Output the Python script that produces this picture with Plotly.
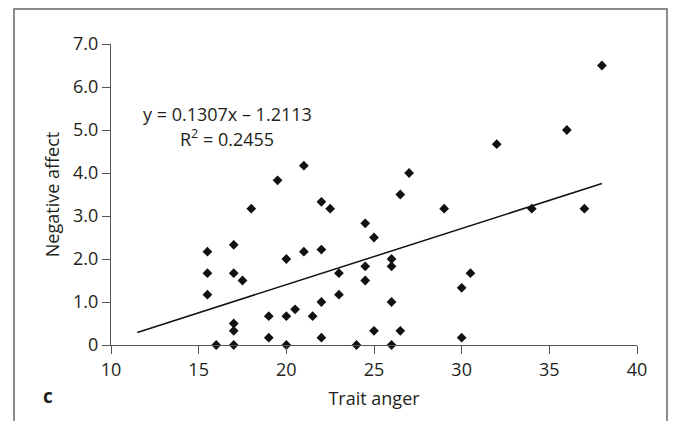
import plotly.graph_objects as go

trait_anger = [15.5, 15.5, 15.5, 16, 17, 17, 17.5, 17, 17, 17,
               18, 19.5, 20, 19, 20, 20.5, 19, 20, 21, 22,
               22.5, 27, 26.5, 29, 24.5, 25, 21, 22, 23, 24.5,
               24.5, 26, 26, 23, 22, 21.5, 26, 22, 25, 26.5,
               24, 26, 30, 30.5, 30, 38, 36, 32, 34, 37]
negative_affect = [2.17, 1.67, 1.17, 0, 2.33, 1.67, 1.5, 0.5, 0.33, 0,
                   3.17, 3.83, 2.0, 0.67, 0.67, 0.83, 0.17, 0, 4.17, 3.33,
                   3.17, 4.0, 3.5, 3.17, 2.83, 2.5, 2.17, 2.22, 1.67, 1.83,
                   1.5, 2.0, 1.83, 1.17, 1.0, 0.67, 1.0, 0.17, 0.33, 0.33,
                   0, 0, 1.33, 1.67, 0.17, 6.5, 5.0, 4.67, 3.17, 3.17]

slope = 0.1307
intercept = -1.2113
line_x = [11.5, 38]
line_y = [slope * v + intercept for v in line_x]

x_ticks = [10, 15, 20, 25, 30, 35, 40]
y_ticks = [0, 1, 2, 3, 4, 5, 6, 7]
y_ticktext = ["0", "1.0", "2.0", "3.0", "4.0", "5.0", "6.0", "7.0"]

FONT = "Open Sans"
TXT = "#231f20"
AX = "#555555"
FS = 18

# page is offset by the 8px body margin; figure is sized so the page fits exactly
PW, PH = 526, 301   # plot area size in px
L, T = 103, 36

fig = go.Figure()
fig.add_trace(go.Scatter(x=line_x, y=line_y, mode="lines",
                         line=dict(color="#111111", width=1.5),
                         hoverinfo="skip", showlegend=False))
fig.add_trace(go.Scatter(x=trait_anger, y=negative_affect, mode="markers",
                         marker=dict(symbol="diamond", size=7.5, color="#111111"),
                         cliponaxis=False, showlegend=False))

fig.update_layout(
    width=660, height=413,
    margin=dict(l=L, r=660 - L - PW, t=T, b=413 - T - PH),
    paper_bgcolor="white", plot_bgcolor="white",
    font=dict(family=FONT, size=FS, color=TXT),
    xaxis=dict(range=[10, 40], tickvals=x_ticks, ticks="outside", ticklen=8,
               tickcolor=AX, showline=True, linecolor=AX, linewidth=1,
               showgrid=False, zeroline=False, fixedrange=True,
               title=dict(text="Trait anger", standoff=12,
                          font=dict(size=FS, color=TXT)),
               tickfont=dict(size=FS, color=TXT)),
    yaxis=dict(range=[0, 7], tickvals=y_ticks, ticktext=y_ticktext,
               ticks="outside", ticklen=8, tickcolor=AX, showline=True,
               linecolor=AX, linewidth=1, showgrid=False, zeroline=False,
               fixedrange=True,
               title=dict(text="Negative affect", standoff=8,
                          font=dict(size=FS, color=TXT)),
               tickfont=dict(size=FS, color=TXT)),
    shapes=[dict(type="rect", xref="paper", yref="paper",
                 x0=(6 - L) / PW, x1=(659 - L) / PW,
                 y0=(T + PH - 430) / PH, y1=(T + PH - 1) / PH,
                 line=dict(color="#666666", width=1.5))],
    annotations=[
        dict(text="y = 0.1307x – 1.2113", x=16.62, y=5.37, xref="x", yref="y",
             showarrow=False, xanchor="center", yanchor="middle",
             font=dict(size=FS, color=TXT)),
        dict(text="R<sup>2</sup> = 0.2455", x=16.62, y=4.82, xref="x", yref="y",
             showarrow=False, xanchor="center", yanchor="middle",
             font=dict(size=FS, color=TXT)),
        dict(text="<b>c</b>", x=(40 - L) / PW, y=(T + PH - 388) / PH,
             xref="paper", yref="paper", showarrow=False,
             xanchor="center", yanchor="middle",
             font=dict(size=19, color=TXT)),
    ],
)

fig.write_html("out.html", config={"displayModeBar": False})
